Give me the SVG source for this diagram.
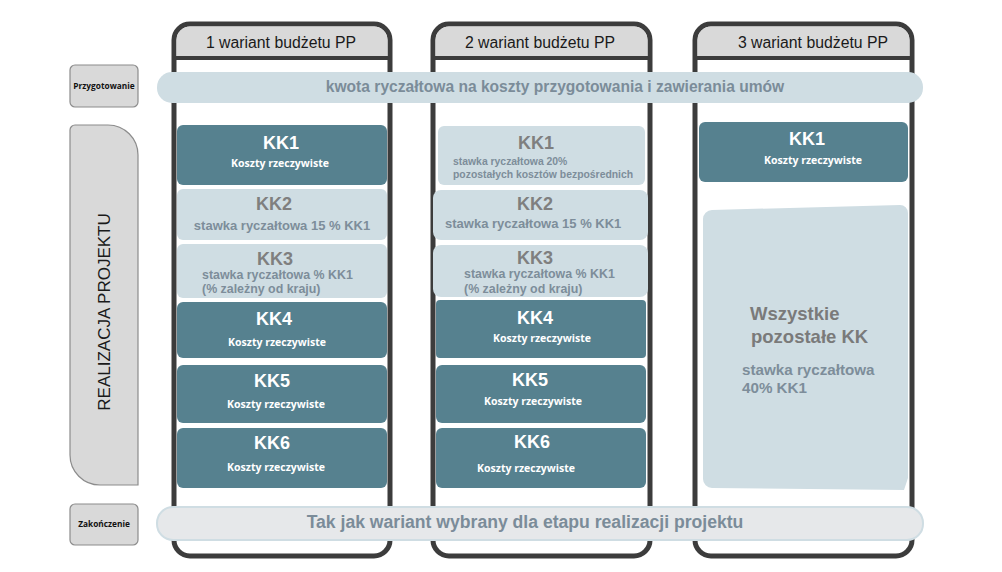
<svg xmlns="http://www.w3.org/2000/svg" width="1002" height="572" viewBox="0 0 1002 572">
<style>
.frame{fill:#fff;stroke:#3c3c3c;stroke-width:5}
.hdr{fill:#d9d9d9}
.hline{stroke:#3c3c3c;stroke-width:4}
.htxt{font-family:"Liberation Sans",Arial,sans-serif;font-size:15.8px;fill:#1a1a1a;text-anchor:middle}
.dark{fill:#56818f}
.light{fill:#cfdde3}
.kkw{font-family:"Liberation Sans",Arial,sans-serif;font-weight:bold;font-size:18px;fill:#fff;text-anchor:middle}
.kkg{font-family:"Liberation Sans",Arial,sans-serif;font-weight:bold;font-size:18px;fill:#7f7f7f;text-anchor:middle}
.sub{font-family:"Open Sans",sans-serif;font-weight:bold;font-size:10.5px;fill:#fff;text-anchor:middle}
.st{font-family:"Liberation Sans",Arial,sans-serif;font-weight:bold;font-size:13px;fill:#7d8d9a}
.st3{font-family:"Liberation Sans",Arial,sans-serif;font-weight:bold;font-size:12.4px;fill:#7d8d9a}
.st2{font-family:"Liberation Sans",Arial,sans-serif;font-weight:bold;font-size:10.4px;fill:#7d8d9a}
.st4{font-family:"Liberation Sans",Arial,sans-serif;font-weight:bold;font-size:15.2px;fill:#7d8d9a}
.big{font-family:"Liberation Sans",Arial,sans-serif;font-weight:bold;font-size:18.5px;fill:#7a7a7a}
.side{fill:#d9d9d9;stroke:#8c8c8c;stroke-width:1.2}
.sidet{font-family:"Open Sans",sans-serif;font-weight:bold;font-size:8.3px;fill:#111;text-anchor:middle}
.band{font-family:"Liberation Sans",Arial,sans-serif;font-weight:bold;fill:#7b8c99;text-anchor:middle}
</style>

<g id="col1-frame">
<rect class="frame" x="174" y="24" width="216" height="532" rx="16"/>
<path class="hdr" d="M176.5 57 V40 a13.5 13.5 0 0 1 13.5 -13.5 H374 a13.5 13.5 0 0 1 13.5 13.5 V57 Z"/>
<line class="hline" x1="176" y1="58" x2="388" y2="58"/>
<text class="htxt" x="281" y="48">1 wariant budżetu PP</text>
</g>
<g id="col2-frame">
<rect class="frame" x="433" y="24" width="217" height="532" rx="16"/>
<path class="hdr" d="M435.5 57 V40 a13.5 13.5 0 0 1 13.5 -13.5 H634 a13.5 13.5 0 0 1 13.5 13.5 V57 Z"/>
<line class="hline" x1="435" y1="58" x2="648" y2="58"/>
<text class="htxt" x="540" y="48">2 wariant budżetu PP</text>
</g>
<g id="col3-frame">
<rect class="frame" x="695" y="24" width="217" height="532" rx="16"/>
<path class="hdr" d="M697.5 57 V40 a13.5 13.5 0 0 1 13.5 -13.5 H896 a13.5 13.5 0 0 1 13.5 13.5 V57 Z"/>
<line class="hline" x1="697" y1="58" x2="910" y2="58"/>
<text class="htxt" x="813" y="48">3 wariant budżetu PP</text>
</g>

<g id="side-przygotowanie">
<rect class="side" x="70" y="65" width="68" height="42" rx="5"/>
<text class="sidet" x="104" y="89">Przygotowanie</text>
</g>
<g id="side-realizacja">
<path class="side" d="M75 125 H108 A30 30 0 0 1 138 155 V485 H100 A30 30 0 0 1 70 455 V130 A5 5 0 0 1 75 125 Z"/>
<text transform="translate(110,312) rotate(-90)" font-family="Liberation Sans,Arial,sans-serif" font-size="17" fill="#1a1a1a" text-anchor="middle">REALIZACJA PROJEKTU</text>
</g>
<g id="side-zakonczenie">
<rect class="side" x="70" y="504" width="68" height="41" rx="5"/>
<text class="sidet" x="104" y="527">Zakończenie</text>
</g>

<g id="band-przygotowanie">
<rect class="light" x="157" y="72" width="766" height="31" rx="15"/>
<text class="band" x="555" y="92" font-size="15.6">kwota ryczałtowa na koszty przygotowania i zawierania umów</text>
</g>
<g id="band-zakonczenie">
<rect x="157" y="507" width="766" height="33" rx="16" fill="#e6e8ea" stroke="#cfdde3" stroke-width="2"/>
<text class="band" x="525" y="528" font-size="17.6">Tak jak wariant wybrany dla etapu realizacji projektu</text>
</g>

<g id="c1-kk1"><rect class="dark" x="177" y="125" width="210" height="60" rx="6"/>
<text class="kkw" x="281" y="149">KK1</text><text class="sub" x="280" y="167">Koszty rzeczywiste</text></g>
<g id="c1-kk2"><rect class="light" x="177" y="189" width="210" height="51" rx="6"/>
<text class="kkg" x="274" y="210">KK2</text><text class="st" x="282" y="230" text-anchor="middle">stawka ryczałtowa 15 % KK1</text></g>
<g id="c1-kk3"><rect class="light" x="177" y="244" width="210" height="54" rx="6"/>
<text class="kkg" x="275" y="265">KK3</text><text class="st3" x="202" y="279">stawka ryczałtowa % KK1</text><text class="st3" x="202" y="293">(% zależny od kraju)</text></g>
<g id="c1-kk4"><rect class="dark" x="177" y="302" width="210" height="56" rx="6"/>
<text class="kkw" x="274" y="325">KK4</text><text class="sub" x="277" y="346">Koszty rzeczywiste</text></g>
<g id="c1-kk5"><rect class="dark" x="177" y="365" width="210" height="58" rx="6"/>
<text class="kkw" x="272" y="387">KK5</text><text class="sub" x="276" y="408">Koszty rzeczywiste</text></g>
<g id="c1-kk6"><rect class="dark" x="177" y="428" width="210" height="60" rx="6"/>
<text class="kkw" x="272" y="449">KK6</text><text class="sub" x="276" y="471">Koszty rzeczywiste</text></g>

<g id="c2-kk1"><rect class="light" x="438" y="126" width="207" height="59" rx="6"/>
<text class="kkg" x="536" y="149">KK1</text><text class="st2" x="453" y="165">stawka ryczałtowa 20%</text><text class="st2" x="453" y="178">pozostałych kosztów bezpośrednich</text></g>
<g id="c2-kk2"><rect class="light" x="433" y="190" width="215" height="50" rx="8"/>
<text class="kkg" x="535" y="210">KK2</text><text class="st" x="445" y="228">stawka ryczałtowa 15 % KK1</text></g>
<g id="c2-kk3"><rect class="light" x="433" y="245" width="215" height="52" rx="8"/>
<text class="kkg" x="535" y="264">KK3</text><text class="st3" x="464" y="278">stawka ryczałtowa % KK1</text><text class="st3" x="464" y="293">(% zależny od kraju)</text></g>
<g id="c2-kk4"><rect class="dark" x="436" y="300" width="210" height="58" rx="4"/>
<text class="kkw" x="535" y="324">KK4</text><text class="sub" x="542" y="342">Koszty rzeczywiste</text></g>
<g id="c2-kk5"><rect class="dark" x="436" y="365" width="210" height="58" rx="6"/>
<text class="kkw" x="530" y="386">KK5</text><text class="sub" x="533" y="405">Koszty rzeczywiste</text></g>
<g id="c2-kk6"><rect class="dark" x="436" y="428" width="210" height="60" rx="6"/>
<text class="kkw" x="532" y="448">KK6</text><text class="sub" x="526" y="472">Koszty rzeczywiste</text></g>

<g id="c3-kk1"><rect class="dark" x="699" y="122" width="209" height="60" rx="6"/>
<text class="kkw" x="807" y="145">KK1</text><text class="sub" x="813" y="164">Koszty rzeczywiste</text></g>
<g id="c3-rest"><path class="light" d="M712 210 L900 205 A8 8 0 0 1 908 213 V478 L904 490 L712 488 A9 9 0 0 1 703 479 V219 A9 9 0 0 1 712 210 Z"/>
<text class="big" x="750" y="320">Wszystkie</text>
<text class="big" x="751" y="343">pozostałe KK</text>
<text class="st4" x="742" y="375">stawka ryczałtowa</text>
<text class="st4" x="742" y="393">40% KK1</text></g>
</svg>
